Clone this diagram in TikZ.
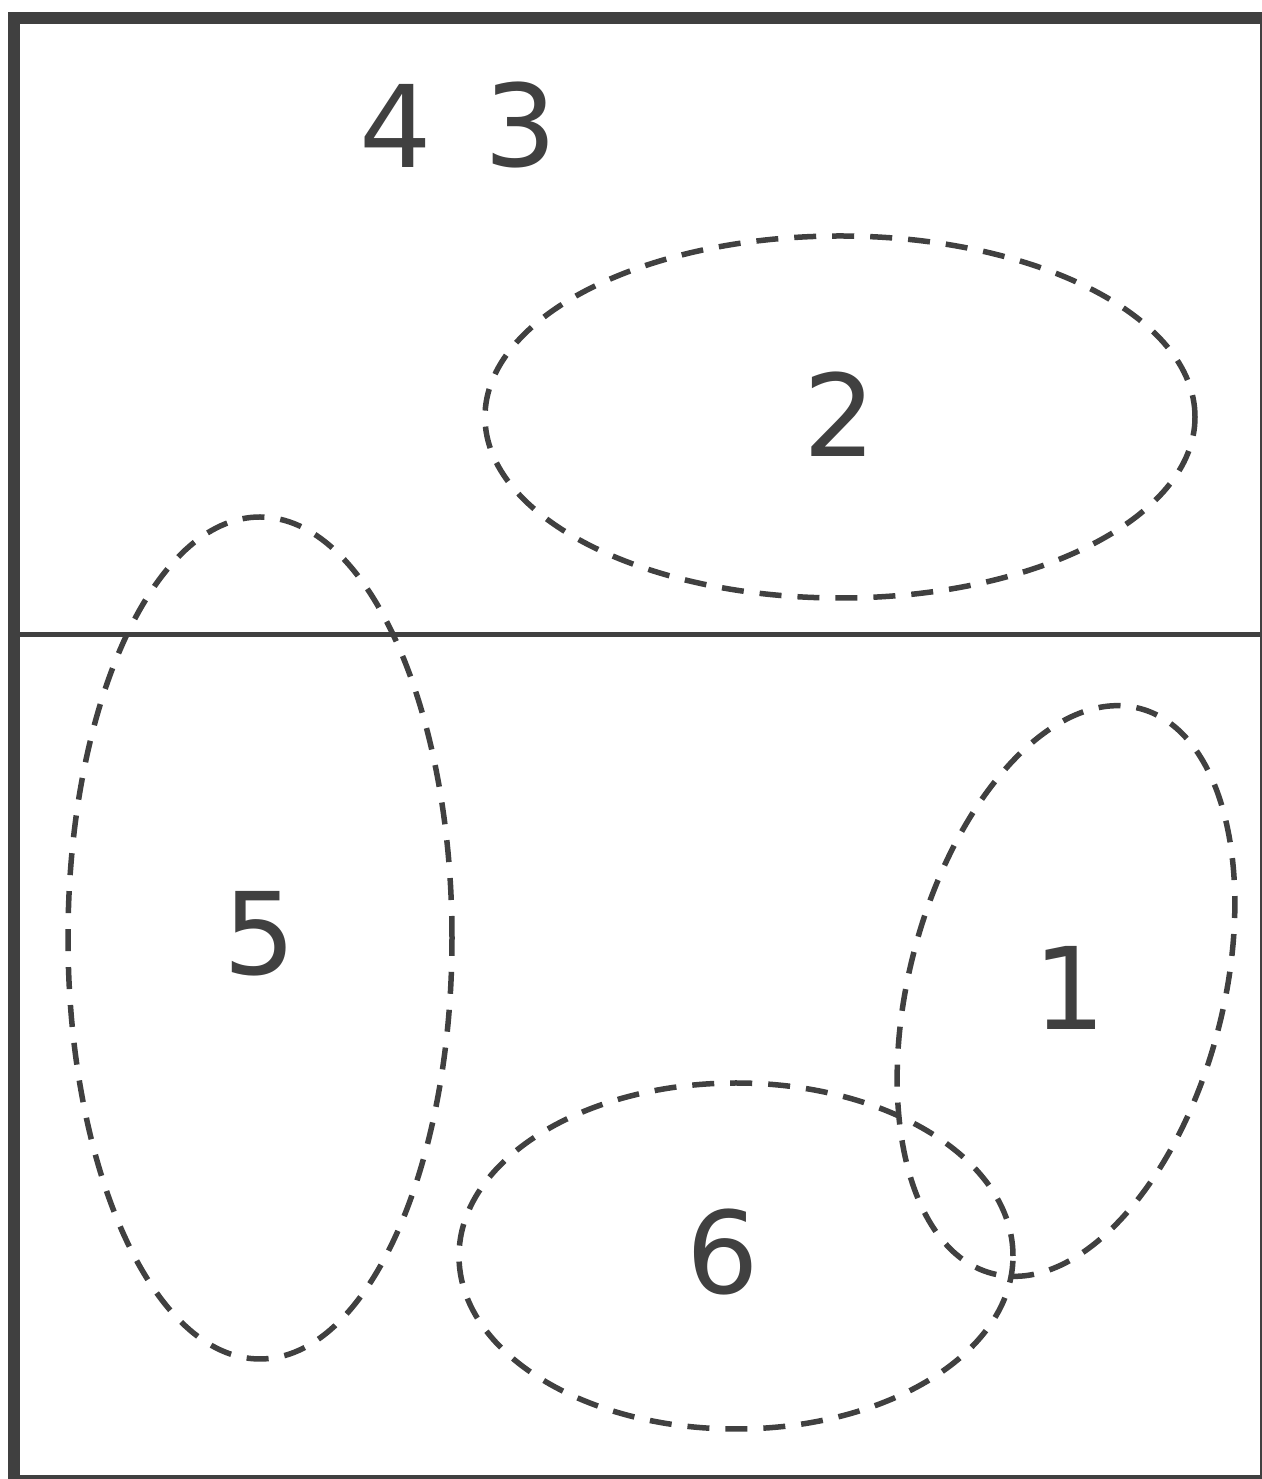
\documentclass[tikz,border=0pt]{standalone}
\usepackage{fontspec}
\setmainfont{DejaVu Sans}
\definecolor{ink}{HTML}{404040}
\begin{document}
\begin{tikzpicture}[x=0.5pt,y=0.5pt,
  frameline/.style={draw=ink,line width=6pt},
  divider/.style={draw=ink,line width=2.5pt},
  region/.style={draw=ink,line width=2.75pt,dash pattern=on 11pt off 8pt},
  digit/.style={text=ink,font=\fontsize{57}{57}\selectfont,inner sep=0pt,anchor=center}]
\useasboundingbox (0,0) rectangle (1262,1479);
\clip (0,0) rectangle (1262,1479);
\fill[white] (0,0) rectangle (1262,1479);
% frame
\draw[frameline] (14,1461) rectangle (1266,-2);
\coordinate (dl) at (20,844.5);
\coordinate (dr) at (1262,844.5);
\draw[divider] (dl) -- (dr);
% regions
\draw[region] (840,1062) ellipse [x radius=355, y radius=181];
\draw[region] (260,541) ellipse [x radius=192, y radius=421];
\draw[region] (736,223) ellipse [x radius=277, y radius=173];
\draw[region] (1066,488) [rotate around={-14.6:(1066,488)}] ellipse [x radius=157, y radius=292];
% labels
\node[digit] (n4) at (396,1353.5) {4};
\node[digit] (n3) at (521,1353.5) {3};
\node[digit] (n2) at (840,1065) {2};
\node[digit] (n5) at (260,545) {5};
\node[digit] (n6) at (722.5,227) {6};
\node[digit] (n1) at (1069.5,491.5) {1};
\end{tikzpicture}
\end{document}
